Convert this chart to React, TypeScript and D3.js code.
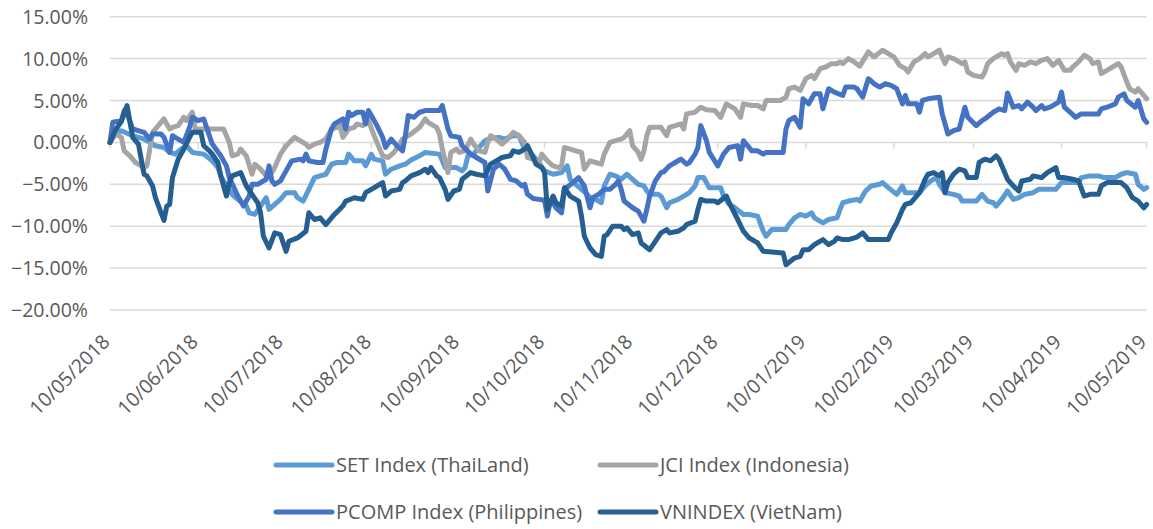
import React from "react";
import * as d3 from "d3";

// Days since 10/05/2018 and cumulative return (%)
const START_LABEL = "10/05/2018";
const END_LABEL = "10/05/2019";
const tickLabels = [
  "10/05/2018", "10/06/2018", "10/07/2018", "10/08/2018", "10/09/2018", "10/10/2018",
  "10/11/2018", "10/12/2018", "10/01/2019", "10/02/2019", "10/03/2019", "10/04/2019", "10/05/2019",
];
const yTicks = [15, 10, 5, 0, -5, -10, -15, -20];

const setThai: [number, number][] = [
  [0, 0], [1, 0.8], [4, 1.4], [8, 0.8], [10, 0.6], [12, 0.4], [14, 0], [16, -0.4], [19, -0.6], [21, -1.2],
  [23, -1.4], [25, -0.8], [27, -0.4], [29, -1.2], [33, -1.4], [36, -2.2], [38, -3], [39, -4], [41, -5.2],
  [43, -6.2], [45, -6.8], [48, -7.6], [49, -8.4], [51, -8.6], [53, -7.6], [55, -6.6], [56, -8], [58, -7.4],
  [60, -6.8], [62, -6], [65, -6], [66, -6.6], [68, -7], [70, -5.6], [72, -4.2], [74, -4], [76, -3.8],
  [78, -2.6], [80, -2.4], [83, -2.4], [84, -1.4], [86, -2.2], [89, -2.2], [90, -2.8], [92, -1.4], [93, -2],
  [96, -2.2], [97, -3.8], [99, -3.2], [102, -2.8], [104, -2.6], [106, -2.1], [109, -1.6], [111, -1.2],
  [116, -1.4], [118, -3], [122, -3], [124, -3.4], [125, -3], [126, -1.6], [128, -1.4], [130, -0.6],
  [132, 0.2], [134, 0.5], [137, 0.6], [139, 0.4], [142, 0.8], [144, 0.8], [146, -0.8], [149, -1.6],
  [151, -2.4], [153, -3.4], [156, -3.8], [159, -3.6], [161, -2.8], [162, -4.4], [164, -5], [166, -5.6],
  [168, -6.2], [169, -6.6], [171, -6.8], [173, -7.2], [174, -5.2], [176, -3.8], [178, -4], [180, -4.4],
  [182, -3.8], [184, -4.4], [186, -5], [188, -5.2], [189, -5.8], [190, -6.2], [193, -6.2], [194, -6.4],
  [196, -7.8], [197, -7.2], [200, -6.8], [202, -6.4], [204, -6], [206, -5.2], [207, -4.2], [209, -4.2],
  [211, -5.4], [215, -5.4], [216, -6.4], [218, -7.4], [220, -7.8], [223, -8.6], [225, -8.6], [228, -8.8],
  [230, -10.6], [231, -11.2], [233, -10.4], [238, -10.4], [239, -9.8], [241, -9], [243, -8.6], [245, -8.8],
  [247, -8.4], [248, -9], [251, -9.6], [253, -9.2], [256, -9], [257, -8], [258, -7.2], [260, -7],
  [263, -6.8], [264, -7], [266, -5.8], [268, -5.2], [271, -5], [272, -4.8], [274, -5.4], [277, -6.2],
  [279, -5.2], [280, -6], [285, -6], [287, -5.2], [289, -4.6], [291, -4.2], [292, -5], [294, -6],
  [297, -6.2], [299, -6.4], [300, -7], [305, -7], [307, -6.2], [309, -7], [311, -7.2], [312, -7.6],
  [314, -6.8], [316, -5.8], [318, -6.8], [320, -6.6], [322, -6.2], [325, -6], [327, -5.6], [330, -5.6],
  [333, -5.6], [335, -4.8], [341, -4.8], [342, -4.2], [345, -4], [348, -4], [350, -4.2], [354, -4.2],
  [356, -3.8], [358, -3.6], [361, -3.8], [362, -5], [364, -5.6], [365, -5.4],
];

const jciIndo: [number, number][] = [
  [0, 0], [2, 1], [4, 0.6], [5, -1], [7, -1.6], [9, -2.4], [12, -3], [13, -2.8], [15, 1.2], [17, 2],
  [19, 2.8], [21, 1.6], [22, 1.8], [24, 2], [26, 3], [27, 2.6], [29, 3.6], [30, 1.6], [40, 1.6], [42, 0],
  [43, -1.6], [45, -1.4], [46, -0.8], [48, -1.6], [50, -3.8], [51, -2.6], [53, -3.2], [55, -4], [56, -3.2],
  [57, -3.6], [58, -3], [60, -1.4], [62, -0.4], [65, 0.6], [66, 0.4], [69, -0.2], [70, -0.6], [72, -0.2],
  [74, 0], [76, 0.4], [78, 1.6], [80, 1.8], [81, 2], [82, 0.6], [84, 1.6], [86, 1.8], [87, 2.2], [89, 2],
  [91, 2.6], [93, 0.8], [95, -0.8], [96, -1.6], [98, -1.8], [100, -1.2], [103, 0.4], [105, 0.8], [106, 1],
  [109, 1.8], [111, 2.8], [112, 2.4], [115, 1.8], [116, 1], [117, -0.8], [119, -3.6], [120, -1.2],
  [122, -0.8], [123, -1.2], [125, -1], [127, 0.4], [128, -0.2], [130, -1], [132, -1.2], [133, 0],
  [134, 0.8], [136, 0.4], [138, -0.2], [140, 0.4], [142, 1.2], [144, 0.8], [146, 0], [147, -1.8],
  [149, -2], [151, -2.6], [152, -1.4], [154, -2.2], [156, -2.8], [158, -3], [159, -2.8], [160, -0.6],
  [162, -0.8], [164, -1], [166, -1.2], [167, -3.2], [169, -2.2], [171, -2.4], [173, -2.6], [174, -1.4],
  [176, 0], [178, 0.2], [180, 0.4], [181, 0.6], [183, 1.4], [184, -0.4], [186, -1.2], [187, -2],
  [188, -1], [189, 0.8], [190, 1.8], [194, 1.8], [196, 0.8], [197, 1.8], [201, 2.2], [202, 1.6],
  [203, 3.4], [206, 3.6], [208, 4.2], [210, 3.9], [213, 3.8], [215, 3], [217, 4.6], [220, 4], [222, 3],
  [223, 4.6], [226, 4.4], [228, 4.4], [230, 4], [231, 5], [236, 5], [238, 5.4], [239, 6.4], [241, 6.6],
  [243, 6.2], [245, 7.6], [247, 8], [248, 7.6], [250, 8.8], [252, 9], [254, 9.4], [256, 9.4], [257, 9.6],
  [258, 9.4], [260, 10], [262, 9.6], [264, 9.1], [267, 10.8], [269, 10.2], [272, 11], [274, 10.6],
  [276, 10.2], [278, 9.2], [280, 8.8], [281, 8.4], [283, 9.6], [285, 10], [287, 10.6], [288, 10.2],
  [290, 10.6], [292, 11], [293, 10.2], [294, 9.4], [295, 10.2], [297, 10], [300, 9.4], [301, 9.6],
  [302, 8.4], [304, 8], [307, 7.8], [308, 8.4], [309, 9.4], [311, 10], [312, 10.2], [314, 10.6],
  [315, 10.4], [316, 10.6], [317, 9.6], [319, 8.6], [320, 9.4], [322, 9.2], [324, 9.6], [326, 9.4],
  [328, 9.8], [330, 10], [332, 9.2], [334, 9.8], [336, 8.6], [338, 8.6], [339, 9], [341, 9.6],
  [343, 10.4], [345, 10], [346, 9.4], [348, 9.6], [349, 8.2], [351, 8.6], [353, 9], [355, 9.4], [356, 9],
  [358, 7.2], [359, 6.4], [361, 6], [362, 6.4], [364, 5.6], [365, 5.2],
];

const pcompPhil: [number, number][] = [
  [0, 0], [1, 2.4], [4, 2.6], [5, 3.8], [6, 3.4], [8, 1.6], [10, 1.4], [12, 1.2], [14, 0.4], [15, 1],
  [18, 1], [19, 0.6], [21, -1.2], [22, 0.8], [24, 0.4], [26, 0], [28, 1.8], [29, 3], [31, 2.6], [33, 2.8],
  [35, 0.8], [36, -0.2], [39, -1.6], [41, -2.8], [42, -4.2], [45, -6.4], [47, -7.6], [49, -6.4], [50, -5],
  [52, -5], [55, -4.4], [56, -2.8], [57, -4.6], [58, -5], [60, -4.6], [62, -3.4], [64, -2.2], [67, -2],
  [68, -2.2], [69, -1.4], [70, -2.2], [73, -2.4], [75, -2.4], [76, -0.8], [78, 1.6], [79, 2.2], [81, 2.6],
  [82, 2.8], [83, 1.6], [84, 3.6], [85, 3.2], [87, 3.6], [89, 3.6], [90, 2.2], [91, 3.8], [92, 3.2],
  [94, 2], [96, 0.6], [97, -0.6], [99, 0.4], [101, -0.4], [103, -1], [104, 0.8], [105, 3.2], [107, 3],
  [109, 3.6], [111, 3.8], [113, 3.8], [116, 3.8], [117, 4.4], [119, 1.6], [120, 0.8], [123, 0.6],
  [124, -0.4], [127, -1.4], [129, -1.8], [132, -2.4], [133, -5.8], [135, -3.2], [137, -2.6], [139, -3.2],
  [140, -3.8], [141, -4.4], [143, -4.6], [145, -5.2], [146, -5], [147, -6.2], [149, -6.7], [151, -6.8],
  [153, -6.9], [154, -8.8], [155, -7], [156, -7.2], [157, -7.8], [159, -8.4], [160, -5.6], [163, -4.8],
  [165, -4.2], [167, -5.2], [169, -7.8], [170, -6.6], [172, -6.2], [174, -5.6], [176, -5.6], [178, -5],
  [179, -4.6], [180, -5.6], [181, -7], [184, -7.8], [186, -8.2], [188, -9.4], [189, -8], [190, -6.4],
  [192, -4.6], [194, -3.6], [195, -3.5], [197, -2.8], [199, -2.4], [201, -2], [203, -2.6], [204, -2.4],
  [206, -1.4], [207, -0.6], [208, 2], [210, 0.2], [211, -1.2], [214, -2.8], [216, -1.4], [218, -0.6],
  [221, -0.4], [222, -2], [223, 0.2], [226, -1], [228, -1], [230, -1.4], [231, -1.2], [237, -1.2],
  [238, 1.6], [239, 2.6], [241, 3], [243, 1.8], [244, 5.2], [246, 4.6], [248, 5.8], [250, 5.8], [251, 4],
  [252, 5.2], [253, 6.4], [255, 6], [258, 5.6], [259, 6.6], [262, 6.6], [263, 6.4], [265, 5.4], [267, 7.6],
  [269, 7], [271, 6.6], [273, 7], [275, 6.8], [277, 6.4], [279, 4.6], [280, 5.6], [281, 4.6], [284, 4.6],
  [285, 3.6], [286, 5], [288, 5.2], [292, 5.4], [293, 3.4], [295, 1], [297, 1.4], [299, 1.6], [301, 4.2],
  [302, 3], [305, 2], [307, 2.6], [308, 2.8], [311, 3.6], [313, 4], [315, 3.8], [316, 5.9], [318, 4.2],
  [320, 4.4], [321, 4], [323, 4.8], [325, 4.2], [326, 3.8], [328, 4.4], [329, 4], [331, 4.2], [334, 4.8],
  [335, 6], [336, 4.2], [338, 3.6], [340, 3], [342, 3.4], [348, 3.4], [349, 4], [351, 4.2], [354, 4.6],
  [355, 5.4], [357, 5.8], [358, 5], [361, 4.2], [362, 5], [364, 2.8], [365, 2.4],
];

const vnIndex: [number, number][] = [
  [0, 0], [2, 1.5], [4, 2.5], [6, 4.4], [8, 0.6], [10, -0.2], [12, -3.8], [13, -4], [15, -5.2], [16, -6.6],
  [18, -8.4], [19, -9.3], [20, -7.6], [21, -7.4], [22, -4.2], [24, -2], [26, -0.8], [28, 0.6], [29, 1.2],
  [32, 1.2], [33, -0.4], [35, -1], [36, -1.4], [38, -2.4], [39, -4], [41, -6.4], [42, -4.8], [43, -4],
  [46, -3.6], [48, -5.2], [50, -6.2], [52, -7.2], [53, -8.4], [54, -11.2], [56, -12.6], [58, -10.8],
  [60, -11], [62, -13], [63, -11.8], [66, -11.4], [69, -10.6], [70, -8.4], [72, -9.2], [74, -9],
  [76, -9.8], [79, -8.6], [82, -7.6], [83, -7], [86, -6.6], [89, -6.8], [90, -6], [92, -5.6], [94, -5.2],
  [96, -4.8], [97, -6.4], [99, -5.8], [102, -5.6], [103, -4.8], [104, -4.6], [106, -4], [109, -3.6],
  [111, -3.2], [112, -3.6], [113, -3], [115, -4], [116, -4.2], [118, -5.6], [119, -6.8], [121, -5.8],
  [123, -5.6], [124, -4.4], [127, -3.6], [129, -3.8], [132, -4], [134, -2.6], [136, -2.2], [138, -1.8],
  [141, -1.6], [142, -1], [144, -1.2], [146, -0.8], [147, -0.4], [149, -1.8], [150, -2.6], [152, -3],
  [153, -3.6], [154, -8], [156, -6.4], [157, -7.2], [159, -7.6], [160, -5.4], [162, -6.4], [165, -7],
  [166, -8.8], [167, -11.2], [169, -12.6], [171, -13.4], [173, -13.6], [174, -11.2], [175, -11],
  [177, -10], [180, -10], [181, -10.4], [182, -10.2], [184, -11], [186, -10.8], [187, -12], [190, -12.8],
  [192, -11.8], [194, -10.8], [196, -10.4], [197, -10.8], [200, -10.6], [202, -10.2], [203, -9.8],
  [206, -9.4], [207, -8], [208, -6.8], [210, -7], [213, -7], [214, -7.2], [217, -6.4], [218, -7.2],
  [221, -9.2], [223, -10.6], [225, -11.4], [228, -12], [230, -13], [237, -13.2], [238, -14.6],
  [241, -13.8], [243, -13.6], [244, -12.8], [246, -12.8], [248, -12.2], [251, -11.6], [253, -12.2],
  [255, -11.8], [256, -11.4], [258, -11.6], [260, -11.6], [263, -11.3], [265, -10.8], [267, -11.6],
  [274, -11.6], [275, -10.8], [277, -9.6], [279, -8], [280, -7.4], [282, -7.2], [283, -6.8], [285, -6],
  [287, -4.4], [288, -3.8], [290, -3.6], [292, -4], [293, -3.6], [294, -6], [295, -4.8], [297, -3.8],
  [299, -3.2], [301, -3.4], [302, -4.2], [305, -4.2], [306, -2.4], [308, -2], [310, -2.2], [312, -1.6],
  [313, -2], [315, -3.6], [316, -4.4], [318, -5.2], [320, -5.8], [321, -4.6], [324, -4.4], [325, -4],
  [328, -4.2], [330, -3.6], [333, -3], [334, -4.2], [336, -4.2], [339, -4.4], [341, -4.6], [343, -6.4],
  [345, -6.2], [348, -6.2], [349, -5.2], [351, -4.8], [356, -4.8], [358, -5.4], [360, -6.6], [362, -7],
  [364, -7.8], [365, -7.4],
];

const seriesNames = [
  "SET Index (ThaiLand)",
  "JCI Index (Indonesia)",
  "PCOMP Index (Philippines)",
  "VNINDEX (VietNam)",
];
const seriesData = [setThai, jciIndo, pcompPhil, vnIndex];
const seriesColors = ["#5B9BD5", "#A5A5A5", "#4472C4", "#255E91"];

const FONT = "'Open Sans', Lato, sans-serif";
const TEXT_COLOR = "#595959";
const GRID_COLOR = "#D9D9D9";

export default function App() {
  const parse = d3.timeParse("%d/%m/%Y");
  const start = parse(START_LABEL) as Date;
  const end = parse(END_LABEL) as Date;

  const x = d3.scaleTime().domain([start, end]).range([110, 1146.7]);
  const y = d3.scaleLinear().domain([-20, 15]).range([310, 16.7]);

  const line = d3
    .line<[number, number]>()
    .x((d) => x(d3.timeDay.offset(start, d[0])))
    .y((d) => y(d[1]));

  const fmt = (v: number) => d3.format(".2f")(v) + "%";

  const legendPos = [
    { x: 276, y: 465 },
    { x: 600, y: 465 },
    { x: 276, y: 512 },
    { x: 600, y: 512 },
  ];

  return (
    <svg
      width={1153}
      height={529}
      style={{ position: "absolute", left: 0, top: 0, background: "#fff" }}
      fontFamily={FONT}
    >
      <rect x={0} y={0} width={1153} height={529} fill="#fff" />
      {yTicks.map((t) => (
        <line
          key={"g" + t}
          x1={110}
          x2={1146.7}
          y1={y(t)}
          y2={y(t)}
          stroke={GRID_COLOR}
          strokeWidth={1.5}
        />
      ))}
      {yTicks.map((t) => (
        <text
          key={"yl" + t}
          x={88}
          y={y(t)}
          dy="0.36em"
          textAnchor="end"
          fontSize={19.5}
          fill={TEXT_COLOR}
        >
          {fmt(t)}
        </text>
      ))}
      {tickLabels.map((lbl) => {
        const xx = x(parse(lbl) as Date);
        return (
          <line
            key={"t" + lbl}
            x1={xx}
            x2={xx}
            y1={y(0)}
            y2={y(0) + 6}
            stroke={GRID_COLOR}
            strokeWidth={1.5}
          />
        );
      })}
      {tickLabels.map((lbl) => {
        const xx = x(parse(lbl) as Date);
        return (
          <text
            key={"xl" + lbl}
            transform={`translate(${xx + 1},${343}) rotate(-45)`}
            textAnchor="end"
            fontSize={19.5}
            fill={TEXT_COLOR}
          >
            {lbl}
          </text>
        );
      })}
      {seriesData.map((data, i) => (
        <path
          key={"s" + i}
          d={line(data) || ""}
          fill="none"
          stroke={seriesColors[i]}
          strokeWidth={5}
          strokeLinejoin="round"
          strokeLinecap="round"
        />
      ))}
      {seriesNames.map((name, i) => (
        <g key={"lg" + i} transform={`translate(${legendPos[i].x},${legendPos[i].y})`}>
          <line x1={0} x2={56} y1={0} y2={0} stroke={seriesColors[i]} strokeWidth={5} strokeLinecap="round" />
          <text x={60} y={0} dy="0.36em" fontSize={20} fill={TEXT_COLOR}>
            {name}
          </text>
        </g>
      ))}
    </svg>
  );
}
